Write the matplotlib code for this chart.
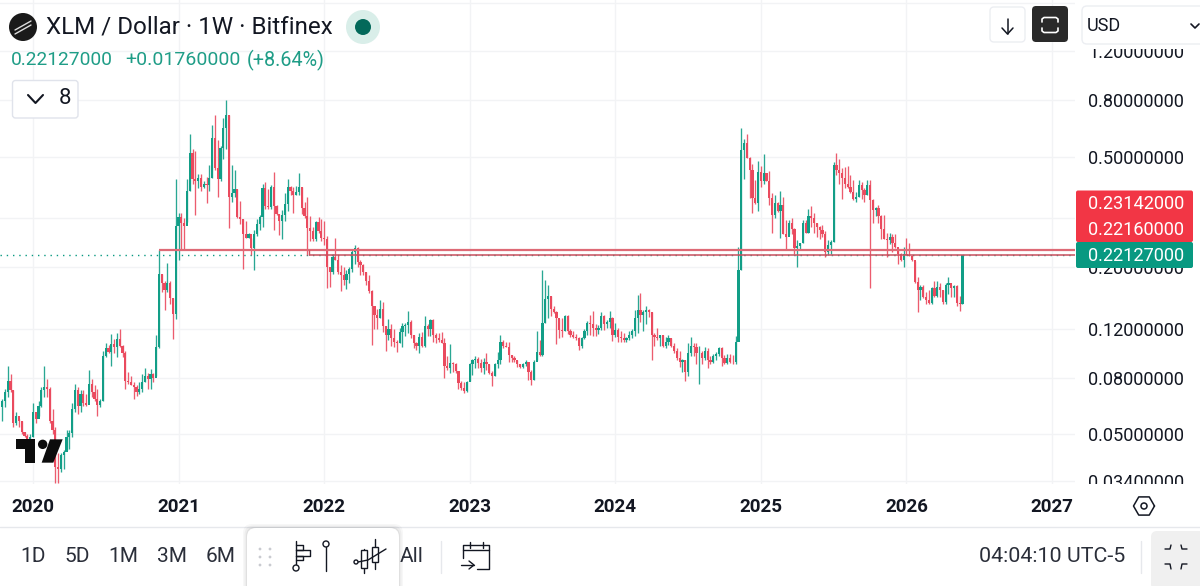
import numpy as np
import matplotlib
matplotlib.use("Agg")
import matplotlib.pyplot as plt
from matplotlib.patches import Circle, FancyBboxPatch, Rectangle, Polygon
from matplotlib.ticker import NullLocator

plt.rcParams['font.family'] = ['Roboto', 'DejaVu Sans']

first_open = 0.0625
closes = [
 .066,.071,.078,.072,.055,.058,.056,.051,.0495,.0476,
 .049,.06,.057,.0635,.072,.074,.073,.056,.052,.038,
 .0375,.042,.043,.049,.0505,.0615,.072,.0635,.07,.065,
 .064,.076,.071,.067,.064,.066,.096,.102,.099,.106,
 .103,.11,.104,.098,.078,.077,.0755,.074,.071,.073,
 .077,.081,.079,.0825,.08,.103,.19,.176,.166,.176,
 .155,.136,.283,.303,.29,.283,.378,.515,.417,.41,
 .42,.39,.4,.395,.42,.585,.455,.417,.54,.635,
 .706,.36,.37,.383,.303,.298,.263,.256,.263,.235,
 .263,.287,.303,.385,.333,.33,.39,.333,.312,.293,
 .31,.338,.39,.378,.365,.375,.388,.328,.306,.277,
 .27,.253,.291,.27,.256,.253,.2,.192,.218,.213,
 .192,.188,.18,.19,.198,.228,.235,.209,.204,.193,
 .178,.164,.145,.135,.1315,.142,.1225,.114,.12,.111,
 .108,.1065,.117,.1225,.124,.127,.114,.1065,.1045,.112,
 .1045,.1225,.12,.1295,.114,.111,.1095,.107,.088,.087,
 .0903,.0893,.0849,.0764,.0734,.0716,.0771,.0893,.0925,.0938,
 .0903,.0865,.0915,.0893,.083,.081,.0893,.0925,.108,.1045,
 .1035,.0968,.094,.0925,.0893,.0875,.0893,.0915,.084,.0785,
 .0915,.0994,.0968,.126,.154,.157,.142,.1375,.1315,.119,
 .118,.1335,.1175,.114,.112,.111,.1045,.111,.1175,.1255,
 .1245,.1205,.119,.1205,.1335,.1245,.127,.1315,.114,.119,
 .112,.111,.1095,.111,.114,.1175,.1315,.14,.135,.138,
 .14,.1375,.114,.112,.1115,.114,.1045,.108,.111,.1045,
 .1,.094,.0915,.0925,.084,.098,.1045,.1035,.098,.0985,
 .094,.1,.0925,.0915,.096,.0975,.102,.094,.0903,.094,
 .0915,.0908,.108,.195,.53,.56,.497,.448,.355,.34,
 .44,.409,.436,.409,.355,.31,.34,.32,.335,.263,
 .2575,.29,.276,.234,.238,.245,.288,.266,.305,.3,
 .288,.28,.272,.263,.227,.24,.247,.468,.448,.436,
 .42,.40,.39,.375,.354,.36,.396,.38,.364,.396,
 .35,.322,.328,.305,.276,.254,.25,.2575,.245,.236,
 .224,.212,.224,.221,.22,.212,.177,.166,.17,.156,
 .152,.149,.168,.158,.17,.165,.15,.172,.176,.169,
 .171,.149,.147,.2213]
highs = [
 .067,.073,.088,.0825,.072,.06,.057,.056,.051,.05,
 .05,.065,.06,.066,.074,.0885,.079,.074,.0615,.053,
 .0428,.0428,.0438,.052,.052,.065,.076,.074,.072,.072,
 .07,.085,.079,.075,.073,.067,.1,.107,.105,.115,
 .11,.116,.12,.105,.1,.084,.081,.077,.075,.077,
 .0825,.087,.083,.086,.083,.114,.2314,.19,.178,.207,
 .178,.155,.417,.315,.315,.3,.417,.606,.535,.525,
 .434,.434,.41,.425,.466,.65,.71,.574,.548,.69,
 .8,.706,.466,.45,.383,.347,.298,.293,.267,.256,
 .272,.298,.31,.4,.405,.383,.395,.44,.335,.312,
 .322,.37,.415,.392,.39,.392,.437,.39,.343,.36,
 .306,.279,.295,.303,.298,.295,.26,.2,.223,.256,
 .222,.204,.2,.196,.2,.2325,.241,.236,.213,.206,
 .193,.188,.165,.145,.141,.153,.15,.1225,.13,.1245,
 .1195,.109,.121,.1255,.1255,.139,.129,.114,.108,.116,
 .117,.133,.1245,.13,.13,.116,.116,.117,.111,.0955,
 .106,.091,.0903,.0849,.0776,.077,.0776,.0905,.0938,.0955,
 .0948,.0938,.0945,.098,.0893,.0843,.0903,.0994,.114,.1095,
 .108,.1075,.0968,.0955,.0925,.09,.0903,.0925,.0915,.0855,
 .0925,.118,.1095,.196,.18,.172,.158,.145,.139,.13,
 .1315,.135,.135,.12,.1175,.115,.112,.112,.12,.128,
 .135,.139,.1245,.1235,.138,.135,.129,.139,.1325,.126,
 .1205,.1175,.116,.112,.1175,.12,.14,.159,.162,.14,
 .145,.142,.1375,.116,.1205,.114,.114,.112,.114,.111,
 .1065,.102,.0995,.0935,.0925,.1065,.112,.1065,.1065,.1045,
 .1,.103,.102,.0955,.0975,.0994,.103,.103,.0968,.0975,
 .0975,.0968,.113,.237,.635,.578,.605,.5,.47,.413,
 .485,.465,.513,.436,.445,.372,.364,.345,.378,.36,
 .296,.297,.3,.278,.25,.245,.296,.296,.324,.333,
 .315,.29,.281,.284,.27,.25,.25,.478,.517,.49,
 .455,.46,.465,.43,.413,.375,.413,.405,.385,.413,
 .413,.353,.33,.335,.31,.31,.265,.265,.263,.263,
 .235,.226,.236,.255,.245,.221,.21,.185,.172,.172,
 .163,.166,.17,.179,.179,.176,.166,.175,.184,.172,
 .172,.172,.157,.2216]
lows = [
 .056,.0625,.068,.071,.053,.054,.053,.05,.049,.046,
 .046,.049,.055,.058,.0625,.068,.068,.055,.05,.0335,
 .0335,.0365,.0375,.044,.0444,.049,.06,.059,.06,.0635,
 .0635,.07,.068,.066,.058,.0625,.066,.095,.098,.0885,
 .098,.095,.103,.095,.073,.076,.075,.067,.069,.07,
 .071,.077,.073,.073,.077,.081,.102,.163,.14,.163,
 .148,.11,.13,.212,.23,.23,.292,.378,.4,.31,
 .385,.378,.385,.34,.378,.42,.45,.36,.41,.49,
 .535,.277,.345,.36,.3,.287,.197,.255,.255,.222,
 .196,.26,.272,.28,.325,.325,.325,.272,.31,.262,
 .254,.295,.318,.365,.313,.365,.365,.312,.30,.2216,
 .249,.249,.249,.267,.249,.24,.168,.17,.189,.212,
 .19,.164,.173,.167,.175,.193,.206,.2,.188,.188,
 .173,.161,.105,.12,.1195,.1315,.117,.1,.109,.104,
 .103,.099,.1065,.103,.113,.116,.111,.102,.101,.0985,
 .103,.103,.113,.113,.108,.107,.108,.1065,.0797,.0853,
 .0832,.084,.0835,.073,.0725,.0706,.071,.0776,.0818,.0865,
 .087,.084,.0826,.0853,.0826,.0748,.0808,.0865,.0898,.102,
 .103,.0915,.0915,.091,.0877,.0865,.0865,.0885,.0785,.0752,
 .0785,.0925,.0955,.0955,.126,.1315,.134,.137,.106,.111,
 .112,.118,.115,.112,.111,.1095,.101,.102,.1105,.114,
 .114,.113,.113,.115,.119,.119,.1205,.1205,.1085,.112,
 .108,.108,.108,.108,.1095,.111,.113,.116,.127,.1175,
 .1245,.1325,.0925,.104,.1095,.104,.103,.102,.105,.103,
 .098,.0925,.0877,.084,.0776,.0808,.0955,.0955,.09,.0757,
 .09,.0925,.0865,.09,.0905,.0925,.0955,.0885,.0893,.0897,
 .0903,.0898,.0898,.112,.195,.418,.495,.355,.315,.337,
 .32,.39,.4,.409,.335,.265,.3,.317,.255,.263,
 .23,.263,.263,.224,.2,.23,.244,.265,.266,.279,
 .265,.2575,.252,.2575,.217,.221,.224,.247,.432,.40,
 .352,.385,.385,.37,.35,.345,.36,.354,.345,.364,
 .168,.29,.305,.29,.254,.254,.217,.243,.227,.235,
 .205,.21,.2,.221,.219,.21,.175,.138,.152,.155,
 .148,.147,.148,.156,.156,.156,.148,.148,.16,.156,
 .156,.145,.139,.147]
year_labels = ['2020','2021','2022','2023','2024','2025','2026','2027']
year_weeks = [12, 64, 116, 168, 220, 272, 324, 376]
price_ticks = [1.8, 1.2, 0.8, 0.5, 0.3, 0.2, 0.12, 0.08, 0.05, 0.034]
price_tick_labels = ['', '1.20000000', '0.80000000', '0.50000000', '', '0.20000000',
                     '0.12000000', '0.08000000', '0.05000000', '0.03400000']
level_prices = [0.23142, 0.2216]
level_start_weeks = [57, 110.6]
last_price = 0.22127

GREEN = '#129e87'
RED = '#ea4a5e'
TXT = '#131722'
W, H = 1200, 586

fig = plt.figure(figsize=(12, 5.86), dpi=100, facecolor='white')
ax = fig.add_axes([0, 1 - 484 / H, 1075 / W, 484 / H])
ax.set_yscale('log')
ax.set_xlim(0.24, 384.2)
ax.set_ylim(0.0331, 1.84)
for s in ax.spines.values():
    s.set_visible(False)

ax.set_yticks(price_ticks)
ax.set_yticklabels(price_tick_labels)
ax.yaxis.set_minor_locator(NullLocator())
ax.yaxis.tick_right()
ax.tick_params(axis='y', length=0, pad=9.4, labelsize=13.1, labelcolor=TXT)
ax.set_xticks(year_weeks)
ax.set_xticklabels(year_labels, fontweight='bold')
ax.tick_params(axis='x', length=0, pad=10, labelsize=13.5, labelcolor=TXT)
ax.grid(True, color='#f2f3f5', lw=1.0)
ax.set_axisbelow(True)

wk = np.arange(1, len(closes) + 1)
cl = np.array(closes)
op = np.array([first_open] + closes[:-1])
hi = np.array(highs)
lo = np.array(lows)
up = cl >= op
colors = np.where(up, GREEN, RED)

ax.hlines(last_price, 0.24, 384.2, color='#089981', lw=1.0, linestyles=(0, (1, 3.5)), zorder=1.5)
ax.vlines(wk, lo, hi, colors=colors, lw=0.95, alpha=0.9, zorder=2)
ax.bar(wk, np.abs(cl - op), bottom=np.minimum(cl, op), width=0.8, color=colors,
       linewidth=0, zorder=2.1)

ax.hlines(level_prices[0], level_start_weeks[0], 384.2, color='#de6a76', lw=1.6, zorder=3)
ax.hlines(level_prices[1], level_start_weeks[1], 384.2, color='#c8505e', lw=1.1, zorder=3)
ax.vlines(level_start_weeks[1], level_prices[1], level_prices[0], color='#c8505e', lw=1.0, zorder=3)

# overlay in pixel coordinates
ov = fig.add_axes([0, 0, 1, 1], zorder=5)
ov.set_xlim(0, W)
ov.set_ylim(H, 0)
ov.axis('off')
ov.patch.set_alpha(0)


def rbox(x0, y0, x1, y1, r=4, fc='white', ec='none', lw=1.0, z=3, alpha=1.0):
    p = FancyBboxPatch((x0 + r, y0 + r), x1 - x0 - 2 * r, y1 - y0 - 2 * r,
                       boxstyle=f'round,pad={r},rounding_size={r}', fc=fc, ec=ec, lw=lw,
                       zorder=z, alpha=alpha, mutation_aspect=1)
    ov.add_patch(p)


def line(xs, ys, c=TXT, lw=1.0, z=6):
    ov.plot(xs, ys, color=c, lw=lw, zorder=z, solid_capstyle='round', solid_joinstyle='round')


def txt(x, y, s, size=13.1, color=TXT, ha='left', va='center', weight='normal', z=7):
    ov.text(x, y, s, fontsize=size, color=color, ha=ha, va=va, fontweight=weight, zorder=z)


# right-hand covers and price labels
ov.add_patch(Rectangle((1075, 0), 125, 49, fc='white', ec='none', zorder=2))
ov.add_patch(Rectangle((1075, 484), 125, 43, fc='white', ec='none', zorder=2))
rbox(1076, 190.5, 1193, 242, r=2, fc='#f23645', z=3)
rbox(1076, 242, 1193, 268, r=2, fc='#089981', z=3.2)
txt(1088, 204, '0.23142000', color='white')
txt(1088, 230, '0.22160000', color='white')
txt(1088, 256, '0.22127000', color='white')

# header
ov.add_patch(Circle((23, 27), 14, fc='#1a1a1a', ec='none', zorder=4))
line([15, 31], [30, 21], c='#dddddd', lw=1.0)
line([15, 31], [34, 25], c='#dddddd', lw=1.0)
txt(46, 27, 'XLM / Dollar · 1W · Bitfinex', size=17.4)
ov.add_patch(Circle((363, 27), 17, fc='#d9eee9', ec='none', zorder=4))
ov.add_patch(Circle((363, 27), 8, fc='#03695a', ec='none', zorder=5))
txt(11, 60, '0.22127000', size=13.8, color='#1f9d87')
txt(125, 60, '+0.01760000', size=14.0, color='#1f9d87')
txt(247, 60, '(+8.64%)', size=14.2, color='#1f9d87')
rbox(12.5, 80.5, 78, 118, r=3, fc='white', ec='#e0e3eb', lw=1.0)
line([28, 35.5, 43], [95, 103, 95], lw=1.5)
txt(65, 99, '8', size=16, ha='center')

# top-right controls
rbox(990, 7, 1025, 42, r=4, fc='white', ec='#eceef2', lw=1.0)
line([1007.5, 1007.5], [19, 34], lw=1.1)
line([1002, 1007.5, 1013], [28, 34, 28], lw=1.1)
rbox(1032, 6, 1068, 42, r=4, fc='#2a2a2a')
line([1042, 1042, 1044, 1056, 1058, 1058], [22, 19, 17.5, 17.5, 19, 22], c='white', lw=1.2)
line([1042, 1042, 1044, 1056, 1058, 1058], [28, 31, 32.5, 32.5, 31, 28], c='white', lw=1.2)
rbox(1082, 6, 1215, 44, r=5, fc='white', ec='#eceef2', lw=1.0)
txt(1087, 26, 'USD', size=13)
line([1191, 1195, 1199], [24, 28, 24], lw=1.2)

# TradingView logo
lx = lambda v: v / 3
ly = lambda v: 90 + v / 3
ov.add_patch(Polygon([(lx(48), ly(1048)), (lx(105), ly(1048)), (lx(105), ly(1118)), (lx(75), ly(1118)),
                      (lx(75), ly(1078)), (lx(48), ly(1078))], fc='#0c0c0c', ec='none', zorder=4))
ov.add_patch(Circle((lx(128), ly(1063)), 4.7, fc='#0c0c0c', ec='none', zorder=4))
ov.add_patch(Polygon([(lx(150), ly(1048)), (lx(188), ly(1048)), (lx(160), ly(1118)), (lx(125), ly(1118))],
                     fc='#0c0c0c', ec='none', zorder=4))

# time-axis separator and settings icon
line([0, W], [527, 527], c='#e6e8ec', lw=1.0, z=2)
hx = 1144 + 10.5 * np.cos(np.arange(0, 7) * np.pi / 3)
hy = 506 + 10.5 * np.sin(np.arange(0, 7) * np.pi / 3)
line(hx, hy, lw=1.1)
ov.add_patch(Circle((1144, 506), 3, fc='none', ec=TXT, lw=1.1, zorder=6))

# bottom toolbar
for x, s in zip([33, 77, 123, 172, 221, 412], ['1D', '5D', '1M', '3M', '6M', 'All']):
    txt(x, 557, s, size=15, ha='center', color='#2a2e39')
txt(1125, 557, '04:04:10 UTC-5', size=15.4, ha='right', color='#2a2e39')
line([441, 441], [541, 573], c='#e6e8ec', lw=1.0, z=2)
line([1141, 1141], [541, 573], c='#e6e8ec', lw=1.0, z=2)

# floating palette
for pad, a in [(4, .03), (2.5, .04), (1, .05)]:
    rbox(247 - pad, 528 - pad, 399 + pad, 600 + pad, r=9, fc='black', z=3, alpha=a)
rbox(247, 528, 399, 600, r=9, fc='white', z=3.1)
ov.add_patch(Rectangle((240, 586), 170, 20, fc='white', ec='none', zorder=3.2))
for dx in (260, 270):
    for dy in (549, 557, 565):
        ov.add_patch(Circle((dx, dy), 1.4, fc='#c9cbd0', ec='none', zorder=6))
line([296, 296], [541, 564])
ov.add_patch(Circle((296, 568), 3, fc='none', ec=TXT, lw=1.0, zorder=6))
line([296, 303, 303, 296], [545, 545, 550, 550])
line([296, 310, 310, 296], [550, 550, 556, 556])
line([296, 303, 303, 296], [556, 556, 560, 560])
line([326, 326], [547, 571])
ov.add_patch(Circle((326, 544), 3, fc='none', ec=TXT, lw=1.0, zorder=6))
line([364, 364], [549, 573])
line([375, 375], [539, 569])
ov.add_patch(Rectangle((361, 550), 6, 18, fc='white', ec=TXT, lw=1.0, zorder=6))
ov.add_patch(Rectangle((372, 547), 6, 15, fc='white', ec=TXT, lw=1.0, zorder=6))
line([358, 368, 386], [562, 560, 549], z=7)
ov.add_patch(Circle((356, 562), 2, fc='white', ec=TXT, lw=1.0, zorder=7))

# calendar icon
line([463, 463, 489, 489, 477], [558, 545, 545, 568.5, 568.5])
line([463, 489], [550, 550])
line([470, 470], [542, 548])
line([483, 483], [542, 548])
line([461, 474], [565, 565])
line([469, 474, 469], [561, 565, 569])

# collapse button
rbox(1151, 531, 1225, 590, r=6, fc='#f0f0f0', z=3)
line([1165, 1170, 1171], [549, 549, 545], lw=1.0)
line([1187, 1182, 1181], [549, 549, 545], lw=1.0)
line([1165, 1170, 1171], [564, 564, 569], lw=1.0)
line([1187, 1182, 1181], [564, 564, 569], lw=1.0)

fig.savefig('out.png', dpi=100)
